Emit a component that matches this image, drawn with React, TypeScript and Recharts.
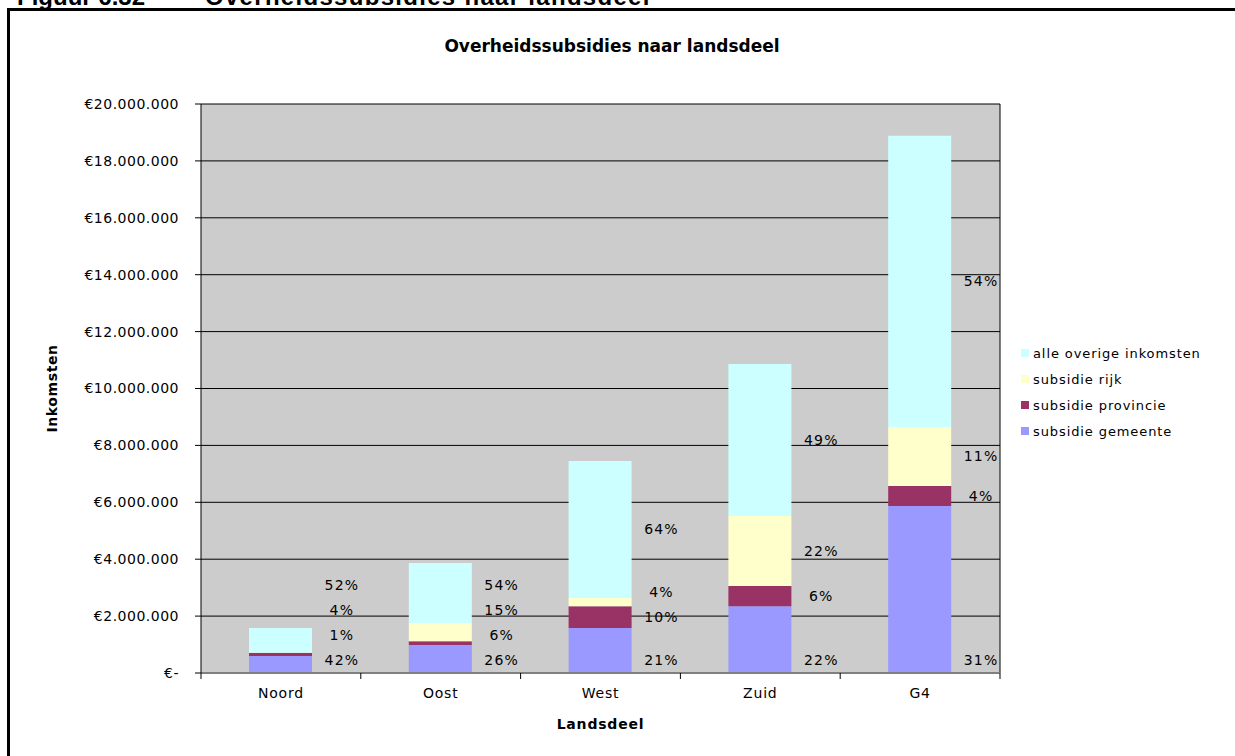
import React from "react";
import {
  Bar,
  CartesianGrid,
  ComposedChart,
  LabelList,
  Line,
  XAxis,
  YAxis,
} from "recharts";

// Excel-grafiek: overheidssubsidies per landsdeel (gestapeld)
const categories = ["Noord", "Oost", "West", "Zuid", "G4"];
const gemeente = [600000, 980000, 1580000, 2350000, 5870000];
const provincie = [100000, 140000, 770000, 710000, 700000];
const rijk = [20000, 640000, 290000, 2460000, 2080000];
const overige = [860000, 2110000, 4810000, 5340000, 10230000];

const pctGemeente = ["42%", "26%", "21%", "22%", "31%"];
const pctProvincie = ["1%", "6%", "10%", "6%", "4%"];
const pctRijk = ["4%", "15%", "4%", "22%", "11%"];
const pctOverige = ["52%", "54%", "64%", "49%", "54%"];

const yTicks = [0, 2000000, 4000000, 6000000, 8000000, 10000000, 12000000, 14000000, 16000000, 18000000, 20000000];

const series = [
  { key: "overige", name: "alle overige inkomsten", color: "#CCFFFF" },
  { key: "rijk", name: "subsidie rijk", color: "#FFFFCC" },
  { key: "provincie", name: "subsidie provincie", color: "#993366" },
  { key: "gemeente", name: "subsidie gemeente", color: "#9999FF" },
];

const FONT = "'DejaVu Sans', Verdana, sans-serif";
const W = 1235;
const H = 756;
const MARGIN = { top: 104, right: 235, bottom: 23, left: 40 };
const Y_AXIS_W = 161;
const PLOT_W = W - MARGIN.left - Y_AXIS_W - MARGIN.right;

// labels: gemeente onderaan in de balk, de rest in het midden van het segment,
// en niet over elkaar heen
const BASE_POS = 450000;
const MIN_GAP = 880000;
function labelPositions(i: number) {
  const segs = [gemeente[i], provincie[i], rijk[i], overige[i]];
  const out: number[] = [];
  let bottom = 0;
  segs.forEach((v, k) => {
    let p = k === 0 ? BASE_POS : bottom + v / 2;
    if (k > 0) p = Math.max(p, out[k - 1] + MIN_GAP);
    out.push(p);
    bottom += v;
  });
  return out;
}

const data = categories.map((name, i) => {
  const [posG, posP, posR, posO] = labelPositions(i);
  return {
    name,
    gemeente: gemeente[i],
    provincie: provincie[i],
    rijk: rijk[i],
    overige: overige[i],
    posG,
    posP,
    posR,
    posO,
    pctG: pctGemeente[i],
    pctP: pctProvincie[i],
    pctR: pctRijk[i],
    pctO: pctOverige[i],
  };
});

const formatEuro = (v: number) =>
  v === 0 ? "€-" : "€" + String(Math.round(v)).replace(/\B(?=(\d{3})+(?!\d))/g, ".");

const renderPct = (props: any) => {
  const { x, y, value } = props;
  return (
    <text
      x={Number(x) + 61}
      y={Number(y)}
      dy="0.35em"
      textAnchor="middle"
      fontSize={14}
      fontFamily={FONT}
      letterSpacing={1.2}
      fill="#000"
    >
      {value}
    </text>
  );
};

const CategoryTick = (props: any) => {
  const { x, y, payload, index } = props;
  const half = PLOT_W / categories.length / 2;
  return (
    <g>
      <line x1={x - half} x2={x - half} y1={y} y2={y + 6} stroke="#000" />
      {index === categories.length - 1 && (
        <line x1={x + half} x2={x + half} y1={y} y2={y + 6} stroke="#000" />
      )}
      <text
        x={x}
        y={y + 20}
        dy="0.35em"
        textAnchor="middle"
        fontSize={14}
        fontFamily={FONT}
        letterSpacing={0.8}
        fill="#000"
      >
        {payload.value}
      </text>
    </g>
  );
};

function LegendBox() {
  return (
    <div style={{ position: "absolute", left: 1021, top: 340, fontFamily: FONT, fontSize: 13, letterSpacing: 0.9 }}>
      {series.map((s) => (
        <div key={s.key} style={{ display: "flex", alignItems: "center", height: 26 }}>
          <span style={{ width: 8, height: 8, background: s.color, marginRight: 4, display: "inline-block" }} />
          <span>{s.name}</span>
        </div>
      ))}
    </div>
  );
}

export default function App() {
  return (
    <div style={{ position: "absolute", left: 0, top: 0, width: W, height: H, overflow: "hidden", background: "#fff" }}>
      {/* kop van de figuur, valt deels buiten beeld */}
      <div
        style={{
          position: "absolute",
          left: 17,
          top: -17,
          fontFamily: "'Liberation Sans', Arial, sans-serif",
          fontWeight: "bold",
          fontSize: 24,
          whiteSpace: "nowrap",
        }}
      >
        Figuur 6.32
      </div>
      <div
        style={{
          position: "absolute",
          left: 205,
          top: -17,
          fontFamily: "'Liberation Sans', Arial, sans-serif",
          fontWeight: "bold",
          fontSize: 24,
          letterSpacing: 1.3,
          whiteSpace: "nowrap",
        }}
      >
        Overheidssubsidies naar landsdeel
      </div>
      <div style={{ position: "absolute", left: 7, top: 8, width: W, height: 3, background: "#000" }} />
      <div style={{ position: "absolute", left: 7, top: 8, width: 3, height: H, background: "#000" }} />

      <div
        style={{
          position: "absolute",
          left: 0,
          top: 36,
          width: 1224,
          textAlign: "center",
          fontFamily: FONT,
          fontWeight: "bold",
          fontSize: 17,
        }}
      >
        Overheidssubsidies naar landsdeel
      </div>

      <div style={{ position: "absolute", left: 0, top: 0 }}>
        <ComposedChart width={W} height={H} data={data} margin={MARGIN} barSize={63}>
          <CartesianGrid
            fill="#CCCCCC"
            stroke="#000"
            vertical={{ stroke: "#808080" } as any}
            verticalCoordinatesGenerator={({ offset }: any) => [offset.left + offset.width]}
          />
          <XAxis
            dataKey="name"
            height={60}
            tickLine={false}
            tickSize={0}
            tickMargin={0}
            axisLine={{ stroke: "#808080", strokeWidth: 2 }}
            tick={<CategoryTick />}
            interval={0}
            label={{
              value: "Landsdeel",
              position: "insideBottom",
              offset: 4,
              style: { fontFamily: FONT, fontWeight: "bold", fontSize: 14, letterSpacing: 0.8, fill: "#000" },
            }}
          />
          <YAxis
            width={Y_AXIS_W}
            domain={[0, 20000000]}
            ticks={yTicks}
            interval={0}
            tickFormatter={formatEuro}
            tick={{ fontSize: 14, fontFamily: FONT, fill: "#000", letterSpacing: 0.5 } as any}
            tickSize={6}
            tickMargin={16}
            axisLine={{ stroke: "#000" }}
            tickLine={{ stroke: "#000" }}
            label={{
              value: "Inkomsten",
              angle: -90,
              position: "insideLeft",
              offset: 12,
              style: { textAnchor: "middle", fontFamily: FONT, fontWeight: "bold", fontSize: 14, letterSpacing: 0.6, fill: "#000" },
            }}
          />
          <Bar dataKey="gemeente" stackId="a" fill="#9999FF" isAnimationActive={false} />
          <Bar dataKey="provincie" stackId="a" fill="#993366" isAnimationActive={false} />
          <Bar dataKey="rijk" stackId="a" fill="#FFFFCC" isAnimationActive={false} />
          <Bar dataKey="overige" stackId="a" fill="#CCFFFF" isAnimationActive={false} />
          <Line dataKey="posG" stroke="none" dot={false} activeDot={false} isAnimationActive={false} legendType="none">
            <LabelList dataKey="pctG" content={renderPct} />
          </Line>
          <Line dataKey="posP" stroke="none" dot={false} activeDot={false} isAnimationActive={false} legendType="none">
            <LabelList dataKey="pctP" content={renderPct} />
          </Line>
          <Line dataKey="posR" stroke="none" dot={false} activeDot={false} isAnimationActive={false} legendType="none">
            <LabelList dataKey="pctR" content={renderPct} />
          </Line>
          <Line dataKey="posO" stroke="none" dot={false} activeDot={false} isAnimationActive={false} legendType="none">
            <LabelList dataKey="pctO" content={renderPct} />
          </Line>
        </ComposedChart>
      </div>

      <LegendBox />
    </div>
  );
}
